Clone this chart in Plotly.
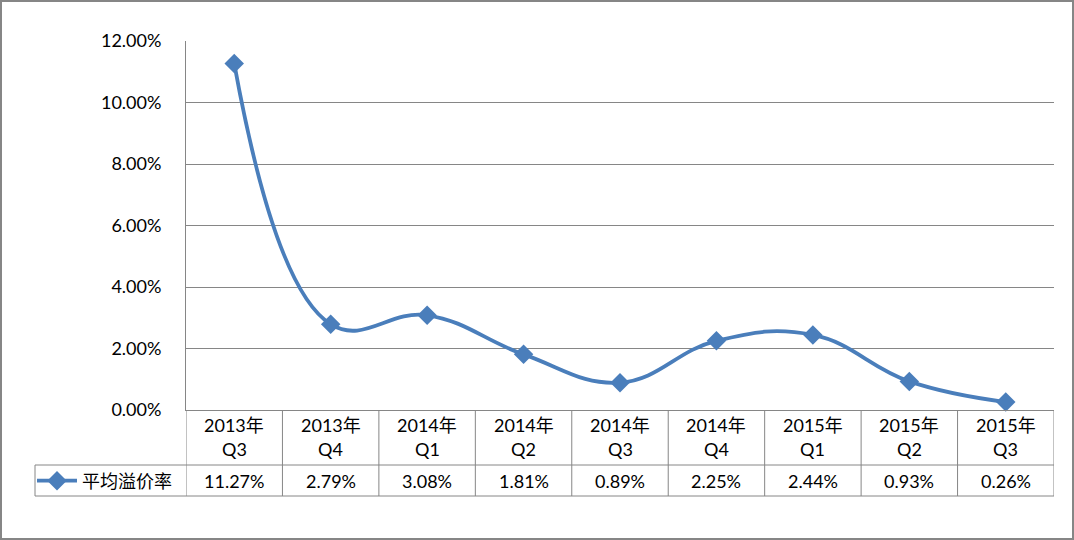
import plotly.graph_objects as go

years = ["2013年", "2013年", "2014年", "2014年", "2014年", "2014年", "2015年", "2015年", "2015年"]
quarters = ["Q3", "Q4", "Q1", "Q2", "Q3", "Q4", "Q1", "Q2", "Q3"]
premium = [0.1127, 0.0279, 0.0308, 0.0181, 0.0089, 0.0225, 0.0244, 0.0093, 0.0026]
series_name = "平均溢价率"

W, H = 1074, 540
ML, MR, MT, MB = 186, 20, 41, 130
PW, PH = W - ML - MR, H - MT - MB
GRAY = "#868686"
BLUE = "#4A7EBB"
FONT = "Lato, Noto Sans CJK SC, sans-serif"
FS = 18

def px(x):
    return (x - ML) / PW

def py(y):
    return (H - MB - y) / PH

n = len(premium)
xs = list(range(n))

fig = go.Figure()
fig.add_trace(go.Scatter(
    x=xs, y=premium, name=series_name, mode="lines+markers",
    line=dict(color=BLUE, width=3.8, shape="spline", smoothing=1.2),
    marker=dict(symbol="diamond", size=15, color=BLUE),
    cliponaxis=False,
))

shapes = []
row1 = H - MB + 55
row2 = H - MB + 86
shapes.append(dict(type="line", xref="paper", yref="paper", x0=px(35), x1=1, y0=py(row1), y1=py(row1), line=dict(color=GRAY, width=1)))
shapes.append(dict(type="line", xref="paper", yref="paper", x0=px(35), x1=1, y0=py(row2), y1=py(row2), line=dict(color=GRAY, width=1)))
shapes.append(dict(type="line", xref="paper", yref="paper", x0=px(35), x1=px(35), y0=py(row1), y1=py(row2), line=dict(color=GRAY, width=1)))
for i in range(n + 1):
    shapes.append(dict(type="line", xref="x", yref="paper", x0=i - 0.5, x1=i - 0.5, y0=0, y1=py(row2), line=dict(color=GRAY, width=1)))
shapes.append(dict(type="rect", xref="paper", yref="paper", x0=px(1), x1=px(W - 1), y0=py(H - 1), y1=py(1), line=dict(color=GRAY, width=2)))

annotations = []
for i in range(n):
    annotations.append(dict(x=xs[i], y=py(H - MB + 15), xref="x", yref="paper", text=years[i], showarrow=False, font=dict(size=FS, color="black", family=FONT), yanchor="middle"))
    annotations.append(dict(x=xs[i], y=py(H - MB + 39), xref="x", yref="paper", text=quarters[i], showarrow=False, font=dict(size=FS, color="black", family=FONT), yanchor="middle"))
    annotations.append(dict(x=xs[i], y=py(row1 + 16), xref="x", yref="paper", text=f"{premium[i]*100:.2f}%", showarrow=False, font=dict(size=FS, color="black", family=FONT), yanchor="middle"))

fig.update_layout(
    width=W, height=H,
    margin=dict(l=ML, r=MR, t=MT, b=MB),
    paper_bgcolor="white", plot_bgcolor="white",
    font=dict(family=FONT, size=FS, color="black"),
    showlegend=True,
    legend=dict(x=px(32), y=py(row1 + 16), xanchor="left", yanchor="middle",
                bgcolor="rgba(0,0,0,0)", font=dict(size=FS, family=FONT), itemwidth=40),
    xaxis=dict(range=[-0.5, n - 0.5], showticklabels=False, showgrid=False, zeroline=False,
               showline=True, linecolor=GRAY, linewidth=1, fixedrange=True),
    yaxis=dict(range=[0, 0.12], dtick=0.02, tickformat=".2%", showgrid=True, gridcolor=GRAY, gridwidth=1,
               zeroline=False, showline=True, linecolor=GRAY, linewidth=1, ticks="",
               ticklabelstandoff=20, tickfont=dict(size=FS, family=FONT)),
    shapes=shapes, annotations=annotations,
)

fig.write_html("out.html", config={"displayModeBar": False},
               post_script="document.body.style.margin='0px';")
